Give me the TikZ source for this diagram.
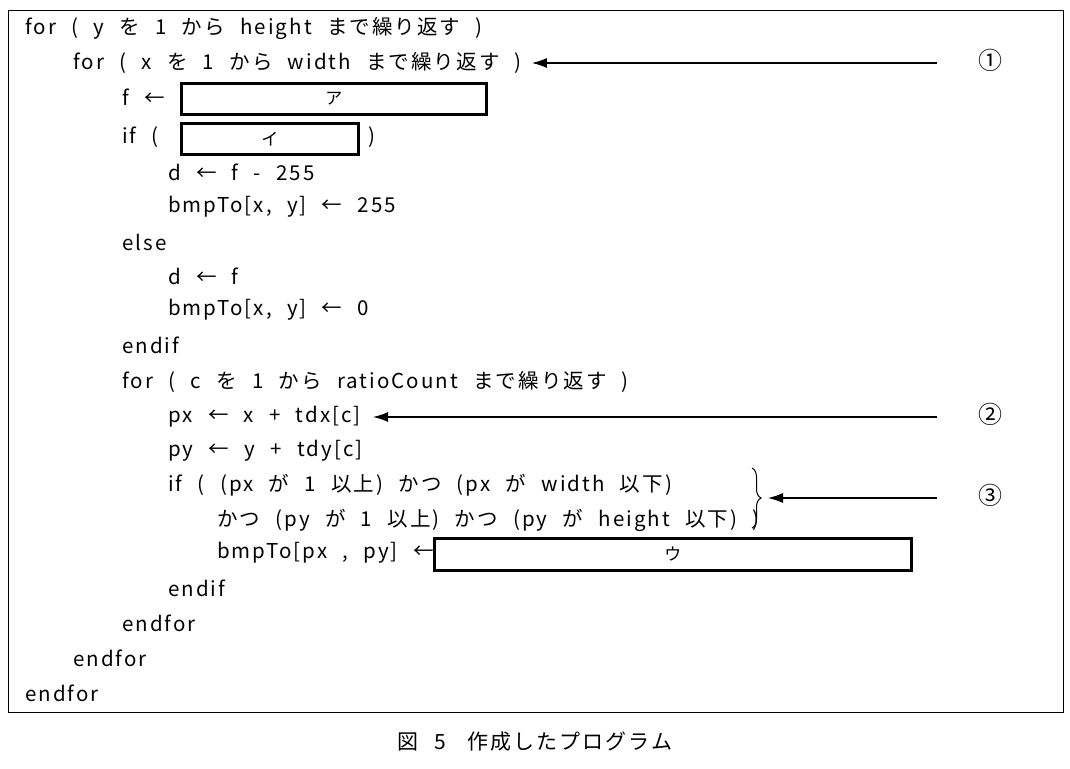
\documentclass[tikz,border=0pt]{standalone}
\usepackage{fontspec}
\setmainfont[LetterSpace=10, WordSpace=2.3]{Noto Sans CJK JP}
\usetikzlibrary{arrows.meta}
\usetikzlibrary{decorations.pathreplacing}

\begin{document}
\begin{tikzpicture}[x=1pt, y=-1pt,
    code/.style={anchor=west, inner sep=0pt, font=\fontsize{20.5}{20.5}\selectfont},
    blank/.style={draw=black, line width=2.6pt, inner sep=0pt, font=\fontsize{17}{17}\selectfont},
    pointer/.style={-{Latex[length=15pt, width=10pt]}, line width=1.2pt}
]
    \useasboundingbox (0,0) rectangle (1070,768);
    \node[draw, line width=1pt, minimum width=1055pt, minimum height=702pt, anchor=north west, inner sep=0pt] (frame) at (8,10) {};

    % Program text
    \node[code] (L1) at (25,28) {for ( y を 1 から height まで繰り返す )};
    \node[code] (L2) at (73,63) {for ( x を 1 から width まで繰り返す )};
    \node[code] (L3) at (122,97) {f ←};
    \node[code] (L4) at (122,137) {if (};
    \node[code] (L4b) at (368,137) {)};
    \node[code] (L5) at (168,172) {d ← f - 255};
    \node[code] (L6) at (168,207) {bmpTo[x,\ y] ← 255};
    \node[code] (L7) at (122,242) {else};
    \node[code] (L8) at (168,276) {d ← f};
    \node[code] (L9) at (168,310) {bmpTo[x,\ y] ← 0};
    \node[code] (L10) at (122,345) {endif};
    \node[code] (L11) at (122,382) {for ( c を 1 から ratioCount まで繰り返す )};
    \node[code] (L12) at (168,417) {px ← x + tdx[c]};
    \node[code] (L13) at (168,451) {py ← y + tdy[c]};
    \node[code] (L14) at (168,485) {if ( (px が 1 以上) かつ (px が width 以下)};
    \node[code] (L15) at (217,520) {かつ (py が 1 以上) かつ (py が height 以下) )};
    \node[code] (L16) at (217,553) {bmpTo[px , py] ←};
    \node[code] (L17) at (168,588) {endif};
    \node[code] (L18) at (122,623) {endfor};
    \node[code] (L19) at (73,658) {endfor};
    \node[code] (L20) at (25,693) {endfor};

    % Blanks
    \node[blank, minimum width=305pt, minimum height=31pt, anchor=north west] (A) at (180,82) {ア};
    \node[blank, minimum width=177pt, minimum height=31pt, anchor=north west] (I) at (180,122) {イ};
    \node[blank, minimum width=477pt, minimum height=32pt, anchor=north west] (U) at (433,537) {ウ};

    % Brace and pointers
    \draw[line width=1pt, decorate, decoration={brace, amplitude=9pt}] (752,468) -- (752,528);
    \coordinate (B) at (768,498);
    \coordinate (P1) at (937,63);
    \coordinate (P2) at (937,417);
    \coordinate (P3) at (937,498);
    \node[code, anchor=center, font=\fontsize{24}{24}\selectfont] (N1) at (990,60) {①};
    \node[code, anchor=center, font=\fontsize{24}{24}\selectfont] (N2) at (990,414) {②};
    \node[code, anchor=center, font=\fontsize{24}{24}\selectfont] (N3) at (990,495) {③};
    \draw[pointer] (P1) -- ([xshift=10pt]L2.east);
    \draw[pointer] (P2) -- ([xshift=12pt]L12.east);
    \draw[pointer] (P3) -- (B);

    % Caption
    \node[code, anchor=center, font=\fontsize{21}{21}\selectfont] (cap) at (535,742) {図 5\quad 作成したプログラム};
\end{tikzpicture}
\end{document}
